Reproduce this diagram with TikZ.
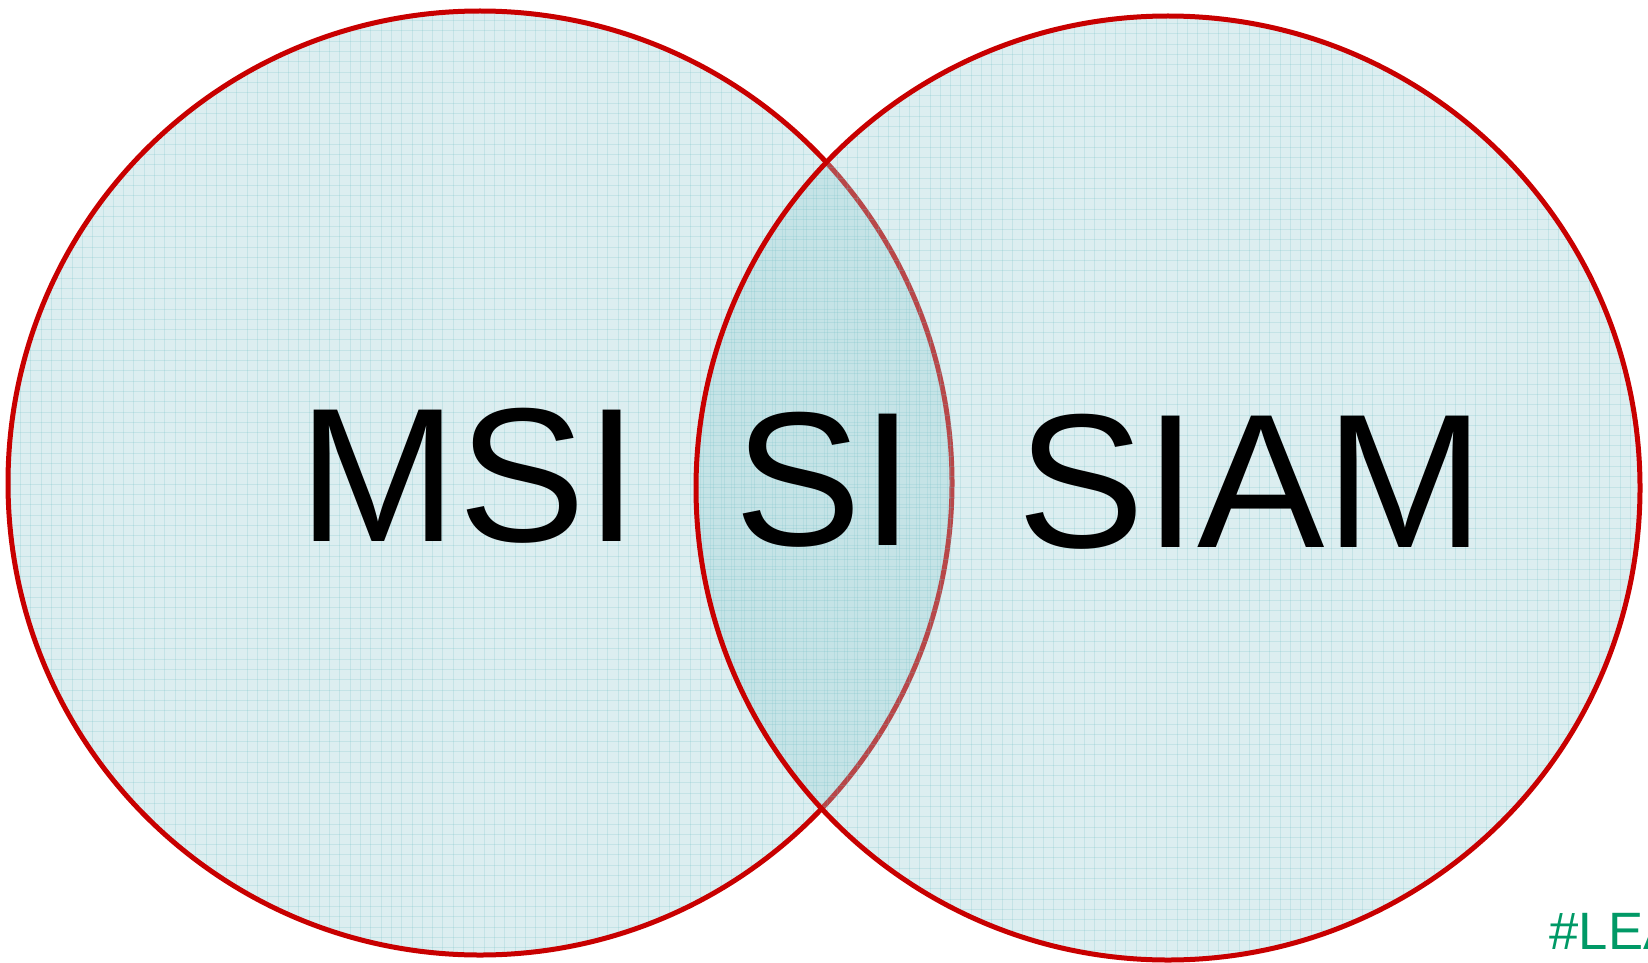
\documentclass[tikz,border=0pt]{standalone}
\usepackage{fontspec}
\setmainfont{Liberation Sans}
\definecolor{vennfill}{RGB}{155,206,212}
\definecolor{vennred}{RGB}{200,0,0}
\definecolor{gridc}{RGB}{110,190,196}
\definecolor{leangreen}{RGB}{0,153,102}
\tikzset{
  vennbody/.style={fill=vennfill, fill opacity=0.35},
  vennedge/.style={draw=vennred, line width=5pt},
  gridline/.style={draw=gridc, draw opacity=0.22, line width=0.9pt},
  biglabel/.style={inner sep=0pt, anchor=base west, text=black, font=\fontsize{191}{200}\selectfont},
  taglabel/.style={inner sep=0pt, anchor=base west, text=leangreen, font=\fontsize{52.6}{60}\selectfont}
}
\begin{document}
\begin{tikzpicture}[x=1pt,y=-1pt]
\useasboundingbox (0,0) rectangle (1648,963);
\clip (0,0) rectangle (1648,963);
% left circle
\fill[vennbody] (480,483) circle[radius=472pt];
\begin{scope}
  \clip (480,483) circle[radius=472pt];
  \foreach \i in {0,...,160} \draw[gridline] (\i*10.3,0) -- (\i*10.3,963);
  \foreach \j in {0,...,94} \draw[gridline] (0,\j*10.3) -- (1648,\j*10.3);
\end{scope}
\draw[vennedge] (480,483) circle[radius=472pt];
% right circle
\fill[vennbody] (1168,488) circle[radius=472pt];
\begin{scope}
  \clip (1168,488) circle[radius=472pt];
  \foreach \i in {0,...,160} \draw[gridline] (\i*10.3+3,0) -- (\i*10.3+3,963);
  \foreach \j in {0,...,94} \draw[gridline] (0,\j*10.3+3) -- (1648,\j*10.3+3);
\end{scope}
\draw[vennedge] (1168,488) circle[radius=472pt];
% labels
\node[biglabel] (msi) at (298.7,541.7) {MSI};
\node[biglabel] (si) at (734,545.7) {SI};
\node[biglabel] (siam) at (1017.2,547.3) {SIAM};
\node[taglabel] (lean) at (1549.5,949.3) {\#LEA};
\end{tikzpicture}
\end{document}
